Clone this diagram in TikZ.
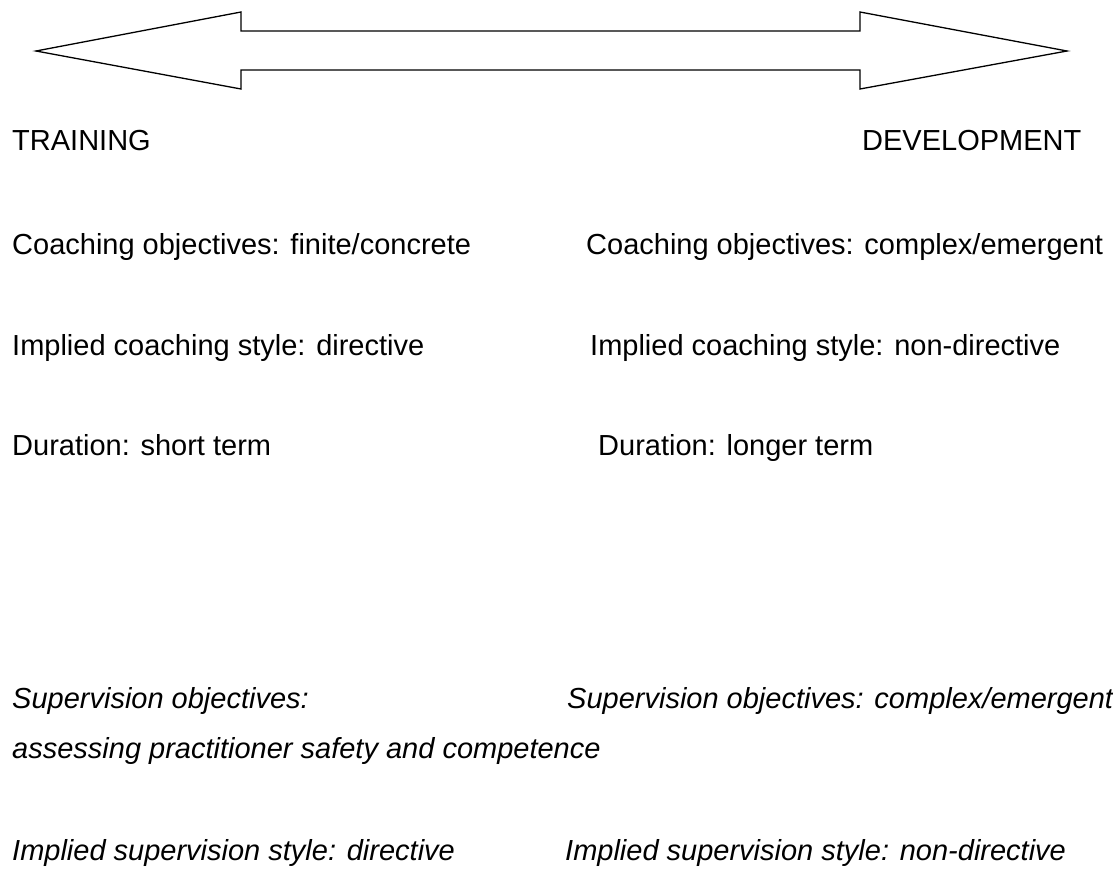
\documentclass[tikz,border=0pt]{standalone}
\usepackage{fontspec}
\setmainfont{Liberation Sans}
\begin{document}
\begin{tikzpicture}[x=1pt,y=1pt,
  lbl/.style={anchor=base west,inner sep=0pt,font=\fontsize{29}{34}\selectfont},
  ilbl/.style={lbl,font=\fontsize{29}{34}\selectfont\itshape},
  bigarrow/.style={draw=black,line width=1.3pt,line join=miter,fill=white}]
\useasboundingbox (0,0) rectangle (1113,-878);
\draw[bigarrow] (36,-51) -- (241,-12) -- (241,-31) -- (860,-31) -- (860,-12) -- (1067,-51)
  -- (860,-89) -- (860,-70) -- (241,-70) -- (241,-89) -- cycle;
\node[lbl] (tr) at (12,-150) {TRAINING};
\node[lbl] (dev) at (862,-150) {DEVELOPMENT};
\node[lbl] (co1) at (12,-254) {Coaching objectives: finite/concrete};
\node[lbl] (co2) at (586,-254) {Coaching objectives: complex/emergent};
\node[lbl] (cs1) at (12,-355) {Implied coaching style: directive};
\node[lbl] (cs2) at (590,-355) {Implied coaching style: non-directive};
\node[lbl] (du1) at (12,-455) {Duration: short term};
\node[lbl] (du2) at (598,-455) {Duration: longer term};
\node[ilbl] (so1) at (12,-708) {Supervision objectives:};
\node[ilbl] (so2) at (567,-708) {Supervision objectives: complex/emergent};
\node[ilbl] (as1) at (12,-758) {assessing practitioner safety and competence};
\node[ilbl] (ss1) at (12,-860) {Implied supervision style: directive};
\node[ilbl] (ss2) at (565,-860) {Implied supervision style: non-directive};
\end{tikzpicture}
\end{document}
